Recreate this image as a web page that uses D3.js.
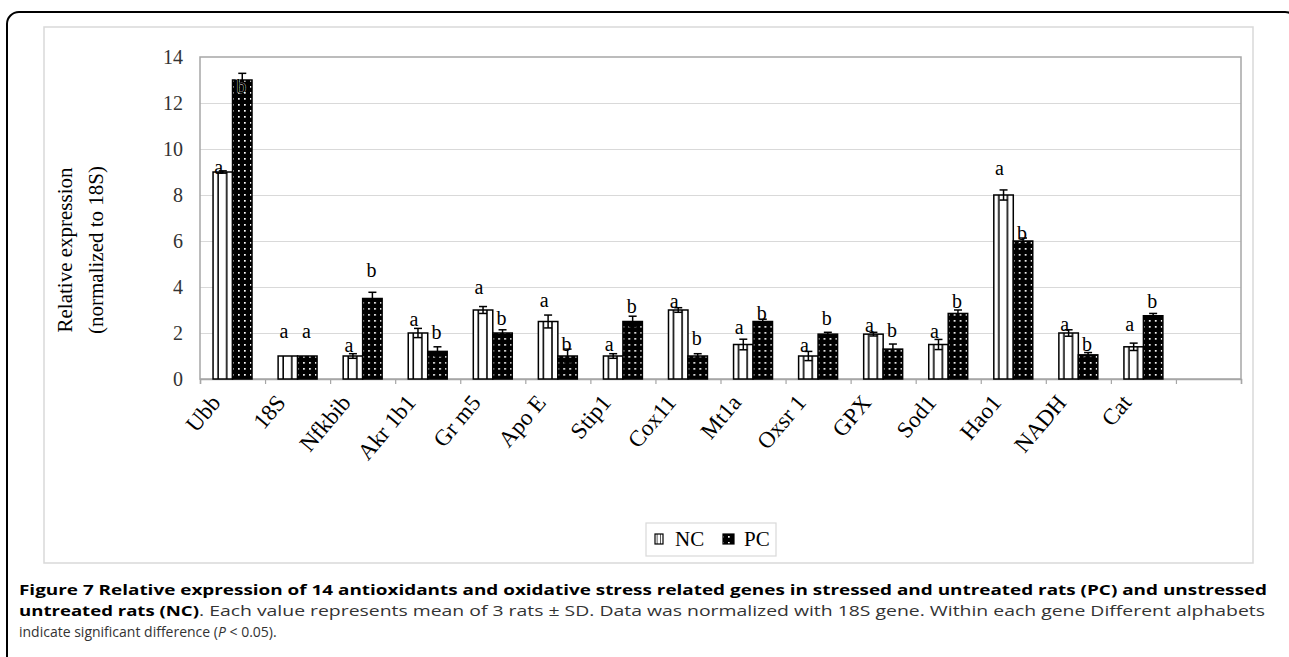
<!DOCTYPE html>
<html>
<head>
<meta charset="utf-8">
<script src="https://cdn.jsdelivr.net/npm/d3@7"></script>
<style>
  html, body { margin: 0; padding: 0; background: #fff; }
  svg { display: block; }
</style>
</head>
<body>
<svg id="chart" width="1289" height="657"></svg>
<script>
// ---------- data ----------
const categories = ["Ubb", "18S", "Nfkbib", "Akr 1b1", "Gr m5", "Apo E", "Stip1", "Cox11", "Mt1a", "Oxsr 1", "GPX", "Sod1", "Hao1", "NADH", "Cat"];
const seriesNames = ["NC", "PC"];
const ncValues = [9.0, 1.0, 1.0, 2.0, 3.0, 2.5, 1.0, 3.0, 1.5, 1.0, 1.95, 1.5, 8.0, 2.0, 1.4];
const pcValues = [13.0, 1.0, 3.5, 1.2, 2.0, 1.0, 2.5, 1.0, 2.5, 1.95, 1.3, 2.85, 6.0, 1.05, 2.75];
const ncErrors = [0.05, 0, 0.1, 0.2, 0.15, 0.28, 0.1, 0.1, 0.23, 0.2, 0.08, 0.22, 0.22, 0.14, 0.16];
const pcErrors = [0.29, 0, 0.27, 0.2, 0.14, 0.3, 0.23, 0.1, 0.1, 0.08, 0.22, 0.15, 0.13, 0.1, 0.1];
const ncLetters = ["a", "a", "a", "a", "a", "a", "a", "a", "a", "a", "a", "a", "a", "a", "a"];
const pcLetters = ["b", "a", "b", "b", "b", "b", "b", "b", "b", "b", "b", "b", "b", "b", "b"];
const ncLetterAt = [9.2, 2.07, 1.49, 2.62, 3.98, 3.45, 1.53, 3.37, 2.24, 1.49, 2.36, 2.1, 9.17, 2.37, 2.39];
const pcLetterAt = [12.75, 2.07, 4.75, 2.06, 2.66, 1.53, 3.16, 1.78, 2.87, 2.65, 2.13, 3.4, 6.35, 1.53, 3.4];
const yTicks = [0, 2, 4, 6, 8, 10, 12, 14];
const yTitle = ["Relative expression", "(normalized to 18S)"];
const captionLines = [
  [{t: "Figure 7 Relative expression of 14 antioxidants and oxidative stress related genes in stressed and untreated rats (PC) and unstressed", w: "bold"}],
  [{t: "untreated rats (NC)", w: "bold"}, {t: ". Each value represents mean of 3 rats \u00b1 SD. Data was normalized with 18S gene. Within each gene Different alphabets"}],
  [{t: "indicate significant difference ("}, {t: "P", s: "italic"}, {t: " < 0.05)."}]
];

// ---------- layout ----------
const svg = d3.select("#chart");
const plot = {left: 200, right: 1241, top: 57, bottom: 379};
const nSlots = categories.length + 1; // one empty slot at the end, as in the original
const serif = "'Liberation Serif', 'Times New Roman', serif";

// frames
svg.append("rect").attr("x", 7).attr("y", 12).attr("width", 1290).attr("height", 700)
  .attr("rx", 12).attr("fill", "none").attr("stroke", "#000").attr("stroke-width", 2);
svg.append("rect").attr("x", 44).attr("y", 27).attr("width", 1209).attr("height", 536)
  .attr("fill", "none").attr("stroke", "#d9d9d9").attr("stroke-width", 1.5);

// patterns
const defs = svg.append("defs");
const pNC = defs.append("pattern").attr("id", "patNC")
  .attr("patternUnits", "objectBoundingBox").attr("patternContentUnits", "objectBoundingBox")
  .attr("width", 1).attr("height", 1);
pNC.append("rect").attr("width", 1).attr("height", 1).attr("fill", "#fff");
pNC.append("rect").attr("x", 0.22).attr("width", 0.08).attr("height", 1).attr("fill", "#000");
pNC.append("rect").attr("x", 0.66).attr("width", 0.08).attr("height", 1).attr("fill", "#000");
const pPC = defs.append("pattern").attr("id", "patPC")
  .attr("patternUnits", "userSpaceOnUse").attr("width", 6).attr("height", 6);
pPC.append("rect").attr("width", 6).attr("height", 6).attr("fill", "#000");
pPC.append("rect").attr("x", 2).attr("y", 2).attr("width", 1.7).attr("height", 1.7).attr("fill", "#fff");

// scales
const x = d3.scaleBand().domain(d3.range(nSlots)).range([plot.left, plot.right]);
const xEdge = d3.scaleLinear().domain([0, nSlots]).range([plot.left, plot.right]);
const xSub = d3.scaleBand().domain(seriesNames).range([0, x.bandwidth()]).paddingOuter(0.67);
const y = d3.scaleLinear().domain([0, 14]).range([plot.bottom, plot.top]);

// gridlines
svg.append("g").attr("transform", `translate(${plot.left},0)`)
  .call(d3.axisLeft(y).tickValues(yTicks.slice(1, -1)).tickSize(-(plot.right - plot.left)).tickFormat(""))
  .call(g => g.select(".domain").remove())
  .call(g => g.selectAll("line").attr("stroke", "#d9d9d9").attr("stroke-width", 1.2));

// plot frame
svg.append("rect").attr("x", plot.left).attr("y", plot.top)
  .attr("width", plot.right - plot.left).attr("height", plot.bottom - plot.top)
  .attr("fill", "none").attr("stroke", "#a6a6a6").attr("stroke-width", 1.5);

// y axis labels
svg.append("g").attr("transform", `translate(${plot.left - 17},0)`)
  .call(d3.axisLeft(y).tickValues(yTicks).tickSize(0).tickPadding(0))
  .call(g => g.select(".domain").remove())
  .call(g => g.selectAll("text").attr("font-family", serif).attr("font-size", 20).attr("fill", "#333"));

// x axis tick marks at category boundaries
svg.append("g").attr("transform", `translate(0,${plot.bottom})`)
  .call(d3.axisBottom(xEdge).tickValues(d3.range(nSlots + 1)).tickSize(5).tickFormat(""))
  .call(g => g.select(".domain").attr("stroke", "#a6a6a6").attr("stroke-width", 1.5))
  .call(g => g.selectAll("line").attr("stroke", "#a6a6a6").attr("stroke-width", 1.2));

// x category labels
const xLab = svg.append("g").attr("transform", `translate(0,${plot.bottom})`)
  .call(d3.axisBottom(x).tickValues(d3.range(categories.length)).tickSize(0)
    .tickFormat(i => categories[i]))
  .call(g => g.select(".domain").remove());
xLab.selectAll("text")
  .attr("font-family", serif).attr("font-size", 23).attr("fill", "#000")
  .attr("text-anchor", "end")
  .attr("y", 0).attr("dy", "0.35em")
  .attr("transform", "translate(-17,19) rotate(-50)");

// data rows
const rows = categories.map((c, i) => ({
  i, c,
  vals: [
    {s: "NC", v: ncValues[i], e: ncErrors[i], l: ncLetters[i], ly: ncLetterAt[i]},
    {s: "PC", v: pcValues[i], e: pcErrors[i], l: pcLetters[i], ly: pcLetterAt[i]}
  ]
}));

const grp = svg.append("g").selectAll("g").data(rows).join("g")
  .attr("transform", d => `translate(${x(d.i)},0)`);

grp.selectAll("rect").data(d => d.vals).join("rect")
  .attr("x", d => xSub(d.s)).attr("width", xSub.bandwidth())
  .attr("y", d => y(d.v)).attr("height", d => y(0) - y(d.v))
  .attr("fill", d => d.s === "NC" ? "url(#patNC)" : "url(#patPC)")
  .attr("stroke", "#000").attr("stroke-width", 1.5);

// error bars
const cap = 4;
const cx = d => xSub(d.s) + xSub.bandwidth() / 2;
const eb = grp.selectAll("g.err").data(d => d.vals.filter(v => v.e > 0)).join("g").attr("class", "err");
eb.append("line").attr("x1", cx).attr("x2", cx)
  .attr("y1", d => y(d.v - d.e)).attr("y2", d => y(d.v + d.e));
eb.append("line").attr("x1", d => cx(d) - cap).attr("x2", d => cx(d) + cap)
  .attr("y1", d => y(d.v + d.e)).attr("y2", d => y(d.v + d.e));
eb.append("line").attr("x1", d => cx(d) - cap).attr("x2", d => cx(d) + cap)
  .attr("y1", d => y(d.v - d.e)).attr("y2", d => y(d.v - d.e));
eb.selectAll("line").attr("stroke", "#000").attr("stroke-width", 1.5);

// significance letters
grp.selectAll("text.sig").data(d => d.vals).join("text").attr("class", "sig")
  .attr("x", d => cx(d) + (d.s === "NC" ? -4 : -1))
  .attr("y", d => y(d.ly)).attr("dy", "0.35em")
  .attr("text-anchor", "middle")
  .attr("font-family", serif).attr("font-size", 20).attr("fill", "#000")
  .attr("stroke", d => d.s === "PC" && d.ly < d.v ? "#fff" : "none")
  .attr("stroke-width", 0.6).attr("paint-order", "stroke")
  .text(d => d.l);

// y title
yTitle.forEach((t, k) => {
  svg.append("text")
    .attr("transform", `translate(${65 + k * 31},250) rotate(-90)`)
    .attr("text-anchor", "middle").attr("dy", "0.35em")
    .attr("font-family", serif).attr("font-size", 21).attr("fill", "#000")
    .text(t);
});

// legend
const lg = svg.append("g");
lg.append("rect").attr("x", 646).attr("y", 523).attr("width", 130).attr("height", 33)
  .attr("fill", "#fff").attr("stroke", "#d9d9d9").attr("stroke-width", 1.2);
const legItems = [{s: "NC", x: 655, w: 8}, {s: "PC", x: 723, w: 11}];
legItems.forEach(it => {
  lg.append("rect").attr("x", it.x).attr("y", 534).attr("width", it.w).attr("height", 10)
    .attr("fill", it.s === "NC" ? "url(#patNC)" : "url(#patPC)")
    .attr("stroke", "#000").attr("stroke-width", 1.2);
  lg.append("text").attr("x", it.x + (it.s === "NC" ? 20 : 21)).attr("y", 539).attr("dy", "0.35em")
    .attr("font-family", serif).attr("font-size", 21).attr("fill", "#000").text(it.s);
});

// caption: each segment is its own text element, placed after the previous one
const capFont = "'Open Sans', 'Noto Sans', sans-serif";
const capX = 19;
const segWidths = [[1248], [180, 1066], [null, null, null]]; // justified widths (null = natural)
captionLines.forEach((parts, k) => {
  let cur = capX;
  parts.forEach((p, j) => {
    const t = svg.append("text").attr("x", cur).attr("y", 595 + k * 21)
      .attr("font-family", capFont)
      .attr("font-size", p.w === "bold" ? 15 : 14)
      .attr("font-weight", p.w || "normal").attr("font-style", p.s || "normal")
      .attr("fill", p.w === "bold" ? "#000" : "#333")
      .attr("xml:space", "preserve")
      .text(p.t);
    const target = segWidths[k][j];
    if (target) {
      t.attr("textLength", target).attr("lengthAdjust", "spacingAndGlyphs");
      cur += target;
    } else {
      cur += t.node().getComputedTextLength();
    }
  });
});
</script>
</body>
</html>
